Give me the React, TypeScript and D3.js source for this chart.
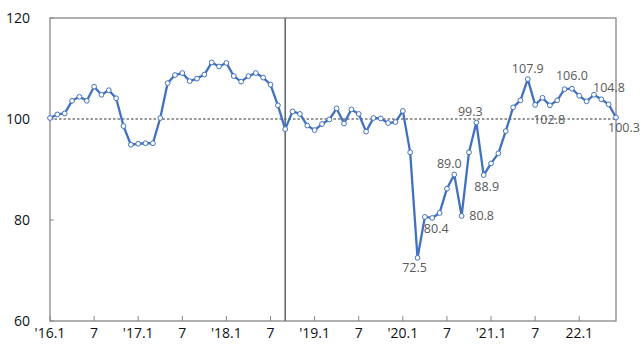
import React from "react";
import * as d3 from "d3";

const values: number[] = [
  100.2, 100.9, 101.1, 103.6, 104.4, 103.6, 106.4, 104.8, 105.7, 104.1,
  98.6, 94.9, 95.1, 95.2, 95.2, 100.2, 107.1, 108.7, 109.1, 107.5,
  108.0, 108.8, 111.2, 110.4, 111.1, 108.5, 107.4, 108.5, 109.1, 108.2,
  106.8, 102.7, 98.0, 101.5, 101.0, 98.7, 97.8, 99.0, 99.9, 102.1,
  99.1, 101.9, 101.0, 97.5, 100.2, 100.1, 99.2, 99.4, 101.6, 93.4,
  72.5, 80.6, 80.4, 81.4, 86.2, 89.0, 80.8, 93.4, 99.3, 88.9,
  91.2, 93.2, 97.6, 102.3, 103.7, 107.9, 102.8, 104.2, 102.7, 103.7,
  105.9, 106.0, 104.6, 103.5, 104.8, 103.9, 102.9, 100.3,
];

const tickLabels: string[] = ["'16.1", "7", "'17.1", "7", "'18.1", "7", "'19.1", "7", "'20.1", "7", "'21.1", "7", "22.1"];
const tickIndices: number[] = [0, 6, 12, 18, 24, 30, 36, 42, 48, 54, 60, 66, 72];
const yTicks: number[] = [60, 80, 100, 120];
const markerIndex = 32;
const refValue = 100;

// labelled points: index and label offset (style)
const labelIdx: number[] = [50, 52, 55, 56, 58, 59, 65, 66, 71, 74, 77];
const labelOffsets: Record<number, [number, number]> = {
  50: [-3, 10],
  52: [4, 11],
  55: [-5, -11],
  56: [20, 0],
  58: [-6, -11],
  59: [3, 12],
  65: [0, -10],
  66: [14, 15],
  71: [0, -13],
  74: [15, -7],
  77: [8, 10],
};

export default function App() {
  const W = 643, H = 357;
  const left = 50, right = 616, top = 18, bottom = 321;
  const x = d3.scaleLinear().domain([0, values.length - 1]).range([left, right]);
  const y = d3.scaleLinear().domain([60, 120]).range([bottom, top]);
  const line = d3.line<number>().x((_, i) => x(i)).y((d) => y(d));
  const axisColor = "#888888";
  const blue = "#4272bf";
  return (
    <svg width={W} height={H} style={{ position: "absolute", left: 0, top: 0, background: "#fff" }}>
      <rect x={0} y={0} width={W} height={H} fill="#fff" />
      {/* reference line */}
      <line x1={left} x2={right} y1={y(refValue)} y2={y(refValue)} stroke="#333" strokeWidth={1} strokeDasharray="2.5,2" />
      {/* frame */}
      <rect x={left} y={top} width={right - left} height={bottom - top} fill="none" stroke={axisColor} strokeWidth={1.3} />
      {/* vertical marker line */}
      <line x1={x(markerIndex)} x2={x(markerIndex)} y1={top} y2={bottom} stroke="#6a6a6a" strokeWidth={1.6} />
      {/* y ticks */}
      {yTicks.map((t) => (
        <g key={"y" + t}>
          <line x1={left} x2={left + 4} y1={y(t)} y2={y(t)} stroke={axisColor} strokeWidth={1} />
          <text x={30} y={y(t)} dy="0.35em" textAnchor="end" fontFamily="Open Sans" fontSize={14} fill="#111">{t}</text>
        </g>
      ))}
      {/* x ticks */}
      {tickIndices.map((ti, k) => (
        <g key={"x" + ti}>
          <line x1={x(ti)} x2={x(ti)} y1={bottom} y2={bottom - 5} stroke={axisColor} strokeWidth={1} />
          <text x={x(ti)} y={338} textAnchor="middle" fontFamily="Open Sans" fontSize={14} fill="#111">{tickLabels[k]}</text>
        </g>
      ))}
      {/* series */}
      <path d={line(values) || ""} fill="none" stroke={blue} strokeWidth={2.3} strokeLinejoin="round" />
      {values.map((v, i) => (
        <circle key={"c" + i} cx={x(i)} cy={y(v)} r={2.4} fill="#fff" stroke={blue} strokeWidth={1} />
      ))}
      {/* data labels */}
      {labelIdx.map((i) => {
        const [dx, dy] = labelOffsets[i];
        return (
          <text key={"l" + i} x={x(i) + dx} y={y(values[i]) + dy} dy="0.35em" textAnchor="middle" fontFamily="Open Sans" fontSize={12.5} fill="#595959">
            {values[i].toFixed(1)}
          </text>
        );
      })}
    </svg>
  );
}
